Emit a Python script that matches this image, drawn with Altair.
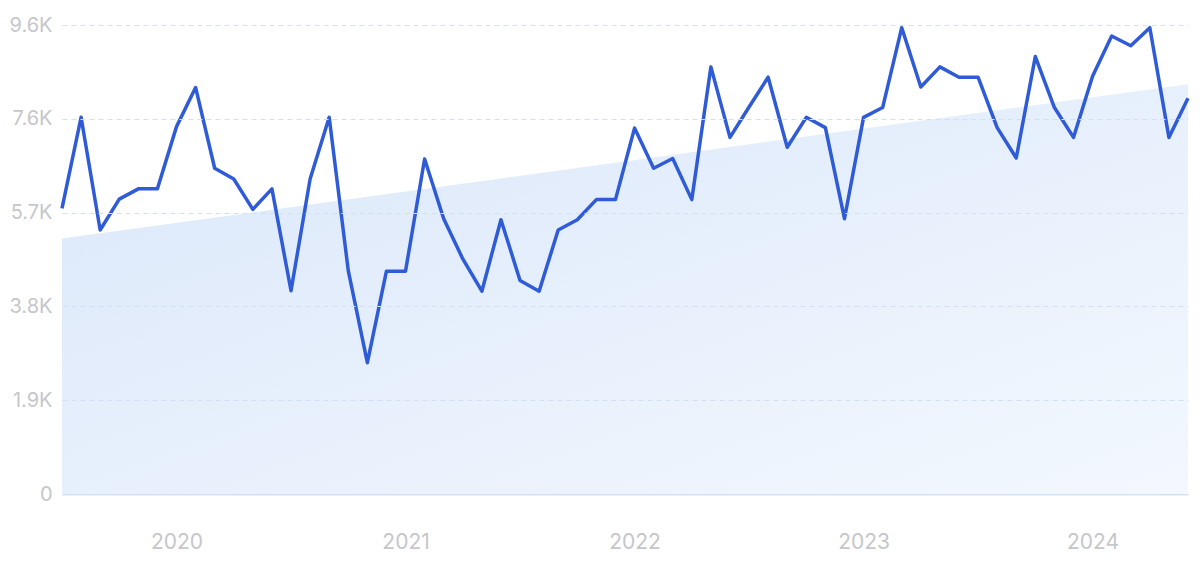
import altair as alt
import pandas as pd

# Monthly values, Jul 2019 .. Jun 2024
months = pd.date_range("2019-07-01", "2024-06-01", freq="MS").strftime("%Y-%m").tolist()
values = [
    5830, 7690, 5390, 6020, 6230, 6230, 7500, 8300, 6650, 6430,
    5810, 6230, 4150, 6430, 7690, 4560, 2680, 4550, 4550, 6840,
    5620, 4800, 4140, 5600, 4360, 4140, 5390, 5600, 6010, 6010,
    7470, 6650, 6850, 6010, 8720, 7280, 7900, 8510, 7080, 7690,
    7480, 5620, 7690, 7890, 9520, 8310, 8720, 8510, 8510, 7480,
    6860, 8930, 7890, 7280, 8530, 9350, 9150, 9520, 7280, 8080,
]
trend_start = 5215
trend_end = 8366

y_ticks = [0, 1915, 3830, 5745, 7660, 9575]
y_labels = ["0", "1.9K", "3.8K", "5.7K", "7.6K", "9.6K"]
x_ticks = [6, 18, 30, 42, 54]
x_labels = ["2020", "2021", "2022", "2023", "2024"]

df = pd.DataFrame({"i": list(range(len(values))), "month": months, "value": values})
trend = pd.DataFrame({"i": [0, len(values) - 1], "value": [trend_start, trend_end]})


def label_expr(ticks, labels):
    expr = "''"
    for t, l in reversed(list(zip(ticks, labels))):
        expr = f"datum.value == {t} ? '{l}' : ({expr})"
    return expr


FONT = "Inter"
LABEL_COLOR = "#c6c6cb"

x_enc = alt.X(
    "i:Q",
    scale=alt.Scale(domain=[0, len(values) - 1], nice=False, zero=False),
    axis=alt.Axis(
        values=x_ticks,
        labelExpr=label_expr(x_ticks, x_labels),
        grid=False,
        ticks=False,
        domain=True,
        domainColor="#d4e2f6",
        domainWidth=2,
        labelFont=FONT,
        labelFontSize=21,
        labelColor=LABEL_COLOR,
        labelPadding=37,
        title=None,
    ),
)
y_scale = alt.Scale(domain=[0, 9575], nice=False)

area = alt.Chart(trend).mark_area(
    color=alt.Gradient(
        gradient="linear",
        stops=[
            alt.GradientStop(color="#dae7fa", offset=0),
            alt.GradientStop(color="#f3f8fe", offset=1),
        ],
        x1=0, x2=1, y1=0, y2=1,
    ),
    opacity=1,
).encode(
    x=x_enc,
    y=alt.Y(
        "value:Q",
        scale=y_scale,
        axis=alt.Axis(
            values=y_ticks,
            labelExpr=label_expr(y_ticks, y_labels),
            grid=True,
            gridColor="#d3dff2",
            gridDash=[5, 4],
            gridWidth=1,
            ticks=False,
            domain=False,
            labelFont=FONT,
            labelFontSize=20,
            labelColor=LABEL_COLOR,
            labelPadding=10,
            title=None,
            zindex=1,
        ),
    ),
)

line = alt.Chart(df).mark_line(color="#2f5cd6", strokeWidth=3.5, strokeJoin="round").encode(
    x="i:Q",
    y=alt.Y("value:Q", scale=y_scale),
)

chart = (
    alt.layer(area, line)
    .properties(
        width=1126,
        height=469,
        autosize=alt.AutoSizeParams(type="none"),
        padding={"left": 54, "top": 17, "right": 4, "bottom": 66},
        background="white",
    )
    .configure_view(stroke=None)
)

chart.save("out.html", embed_options={"renderer": "svg", "actions": False})
